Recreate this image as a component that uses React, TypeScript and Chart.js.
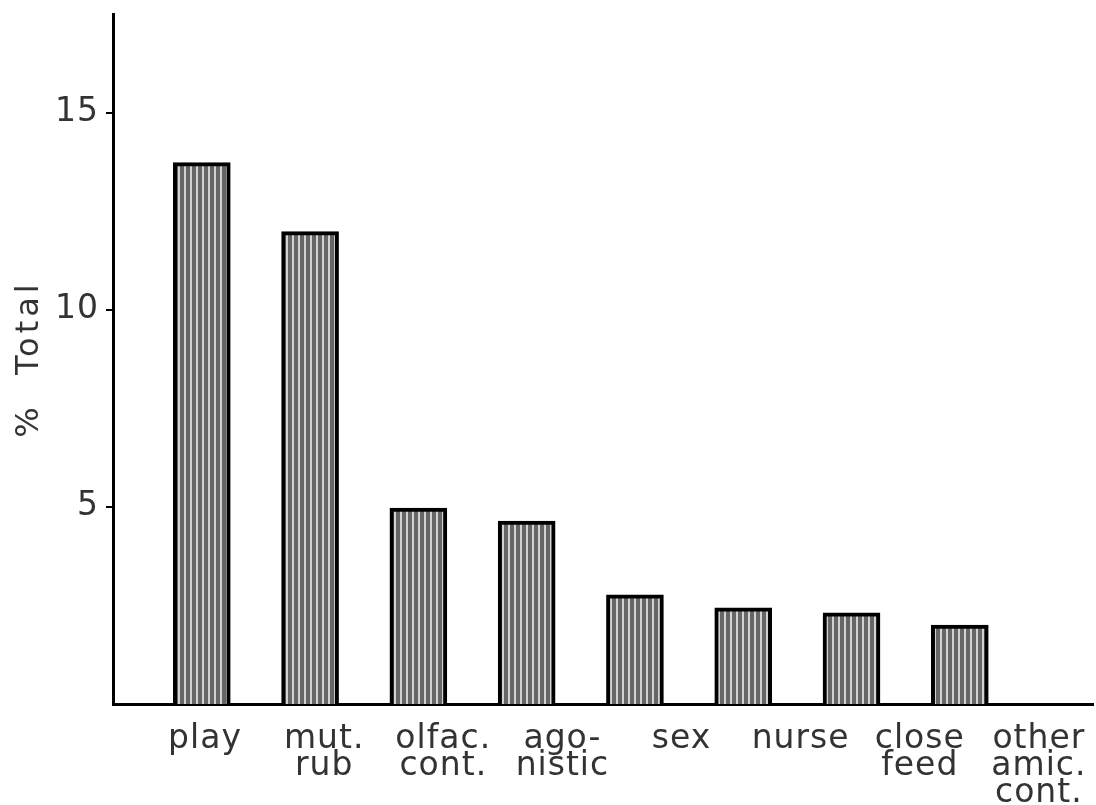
import React, { useEffect, useRef } from "react";
import { Chart, registerables } from "chart.js";

Chart.register(...registerables);

const categories: string[][] = [
  ["play"],
  ["mut.", "rub"],
  ["olfac.", "cont."],
  ["ago-", "nistic"],
  ["sex"],
  ["nurse"],
  ["close", "feed"],
  ["other", "amic.", "cont."],
];
const percentTotal: number[] = [13.73, 11.98, 4.97, 4.64, 2.77, 2.44, 2.31, 2.0];
const yTicks: number[] = [5, 10, 15];

// hand-lettered labels in the original drift to the right of their bars
const LABEL_STRETCH = 1.1;
const LABEL_SHIFT = 0.03;

function makePattern(): CanvasPattern | string {
  const c = document.createElement("canvas");
  c.width = 6;
  c.height = 4;
  const g = c.getContext("2d");
  if (!g) return "#888";
  g.fillStyle = "#666666";
  g.fillRect(0, 0, 6, 4);
  g.fillStyle = "#d2d2d2";
  g.fillRect(4, 0, 2, 4);
  const p = g.createPattern(c, "repeat");
  return p || "#888";
}

const spacingPlugin = {
  id: "letterSpacing",
  afterLayout(chart: any) {
    const y = chart.scales.y;
    if (y && !y.__wrapped) {
      const orig = y.drawTitle;
      y.drawTitle = function (...args: any[]) {
        const ctx = this.ctx;
        const prev = ctx.letterSpacing;
        ctx.letterSpacing = "4px";
        orig.apply(this, args);
        ctx.letterSpacing = prev;
      };
      y.__wrapped = true;
    }
  },
  beforeDraw(chart: any) {
    (chart.ctx as any).letterSpacing = "1px";
  },
  afterDraw(chart: any) {
    (chart.ctx as any).letterSpacing = "0px";
  },
};

export default function App() {
  const ref = useRef<HTMLCanvasElement | null>(null);
  useEffect(() => {
    if (!ref.current) return;
    const font = "'DejaVu Sans', sans-serif";
    const chart = new Chart(ref.current, {
      type: "bar",
      plugins: [spacingPlugin],
      data: {
        datasets: [
          {
            data: percentTotal.map((v, i) => ({ x: i, y: v })),
            backgroundColor: makePattern() as any,
            borderColor: "#000",
            borderWidth: 4,
            borderSkipped: "bottom",
            barThickness: 57,
          },
        ],
      },
      options: {
        animation: false,
        responsive: false,
        maintainAspectRatio: false,
        layout: { padding: { top: 14, right: 3, left: 0, bottom: 0 } },
        plugins: { legend: { display: false }, tooltip: { enabled: false } },
        scales: {
          x: {
            type: "linear",
            offset: false,
            min: -0.82,
            max: 8.23,
            afterBuildTicks: (s: any) => {
              s.ticks = categories.map((_, i) => ({ value: i * LABEL_STRETCH + LABEL_SHIFT }));
            },
            afterFit: (s: any) => {
              s.height = 101;
              s.paddingLeft = 0;
              s.paddingRight = 0;
            },
            ticks: {
              autoSkip: false,
              maxRotation: 0,
              padding: 14,
              color: "#333333",
              font: { family: font, size: 33, lineHeight: 0.82 },
              callback: (_v: any, i: number) => categories[i] ?? "",
            },
            grid: { display: false },
            border: { display: true, color: "#000", width: 3 },
          },
          y: {
            type: "linear",
            min: 0,
            max: 17.5,
            afterBuildTicks: (s: any) => {
              s.ticks = yTicks.map((v) => ({ value: v }));
            },
            afterFit: (s: any) => {
              s.width = 113;
              s.paddingTop = 0;
              s.paddingBottom = 0;
            },
            ticks: {
              padding: 7,
              color: "#333333",
              font: { family: font, size: 33 },
            },
            grid: {
              display: true,
              drawOnChartArea: false,
              drawTicks: true,
              tickLength: 7,
              color: "#000",
              lineWidth: 2,
            },
            border: { display: true, color: "#000", width: 3 },
            title: {
              display: true,
              text: "%  Total",
              color: "#333333",
              font: { family: font, size: 32 },
              padding: { top: 10, bottom: 0 },
            },
          },
        },
      },
    });
    return () => chart.destroy();
  }, []);
  return (
    <div style={{ position: "absolute", left: 0, top: 0, width: 1096, height: 805, background: "#fff" }}>
      <canvas ref={ref} width={1096} height={805} style={{ display: "block" }} />
    </div>
  );
}
